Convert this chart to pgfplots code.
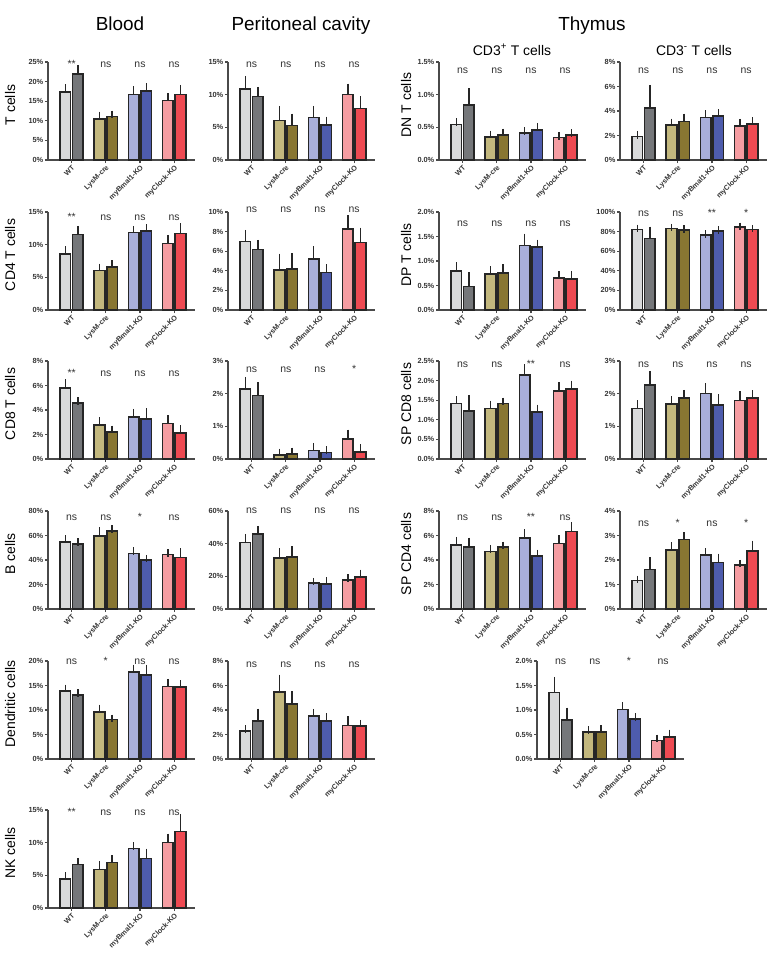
\documentclass[border=0pt]{standalone}
\usepackage{pgfplots}
\pgfplotsset{compat=1.18}
\usepackage{fontspec}
\setmainfont{Liberation Sans}
\definecolor{wtl}{HTML}{D9DADB}
\definecolor{wtd}{HTML}{75777A}
\definecolor{lyl}{HTML}{C3B87E}
\definecolor{lyd}{HTML}{887632}
\definecolor{bml}{HTML}{A9AFDA}
\definecolor{bmd}{HTML}{4E5CAD}
\definecolor{ckl}{HTML}{F59DA2}
\definecolor{ckd}{HTML}{EE4A52}
\definecolor{linec}{HTML}{262626}
\definecolor{axisc}{HTML}{4A4A4A}
\definecolor{txtc}{HTML}{333333}
\pgfplotsset{
  mybar/.style={ybar, bar width=10.5bp, bar shift=0pt, draw=linec, line width=1.6bp},
  panel/.style={scale only axis, width=147bp, height=98bp, anchor=south west,
    xmin=-0.69, xmax=3.61, ymin=0, clip=false,
    axis x line*=bottom, axis y line*=left,
    axis line style={line width=1.3bp, draw=axisc},
    tick style={line width=1.1bp, draw=axisc},
    major tick length=3bp, tick align=outside,
    xtick={0,1,2,3}, xticklabels={WT,LysM-cre,myBmal1-KO,myClock-KO},
    xticklabel style={rotate=45, anchor=north east, font=\fontsize{7.2}{8}\selectfont\bfseries, text=txtc, inner sep=1bp},
    yticklabel style={font=\fontsize{7.4}{8}\selectfont\bfseries, text=txtc, inner sep=1.5bp},
    yticklabel={\pgfmathprintnumber{\tick}\%},
    /pgf/number format/assume math mode=true},
  zf/.style={/pgf/number format/fixed, /pgf/number format/fixed zerofill, /pgf/number format/precision=1}
}
% #1 light colour, #2 dark colour, #3 x light, #4 y light, #5 err light, #6 x dark, #7 y dark, #8 err dark
\newcommand{\G}[8]{%
\addplot[mybar, fill=#1, error bars/.cd, y dir=plus, y explicit, error bar style={line width=1.5bp, draw=linec}, error mark options={line width=1.5bp, draw=linec, mark size=3.8bp}] coordinates {(#3,#4) +- (0,#5)};
\addplot[mybar, fill=#2, error bars/.cd, y dir=plus, y explicit, error bar style={line width=1.5bp, draw=linec}, error mark options={line width=1.5bp, draw=linec, mark size=3.8bp}] coordinates {(#6,#7) +- (0,#8)};}
\newcommand{\sigs}[5]{%
\node[anchor=base, font=\fontsize{10.5}{12}\selectfont, text=txtc] at ({axis cs:0,0}|-{rel axis cs:0,#5}) {#1};
\node[anchor=base, font=\fontsize{10.5}{12}\selectfont, text=txtc] at ({axis cs:1,0}|-{rel axis cs:0,#5}) {#2};
\node[anchor=base, font=\fontsize{10.5}{12}\selectfont, text=txtc] at ({axis cs:2,0}|-{rel axis cs:0,#5}) {#3};
\node[anchor=base, font=\fontsize{10.5}{12}\selectfont, text=txtc] at ({axis cs:3,0}|-{rel axis cs:0,#5}) {#4};}
\begin{document}
\begin{tikzpicture}
\useasboundingbox (0,0) rectangle (772bp,-965bp);
% titles
\node[anchor=base, font=\fontsize{19}{22}\selectfont] at (120bp,-30bp) {Blood};
\node[anchor=base, font=\fontsize{19}{22}\selectfont] at (301bp,-30bp) {Peritoneal cavity};
\node[anchor=base, font=\fontsize{19}{22}\selectfont] at (592bp,-30bp) {Thymus};
\node[anchor=base, font=\fontsize{14}{16}\selectfont] at (512bp,-55bp) {CD3\textsuperscript{+} T cells};
\node[anchor=base, font=\fontsize{14}{16}\selectfont] at (694bp,-55bp) {CD3\textsuperscript{-} T cells};
% y labels
\foreach \t/\y in {T cells/105, CD4 T cells/255, CD8 T cells/404, B cells/554, Dendritic cells/704, NK cells/853}
  \node[anchor=base, rotate=90, font=\fontsize{14}{16}\selectfont] at (15bp,-\y bp) {\t};
\foreach \t/\y in {DN T cells/105, DP T cells/255, SP CD8 cells/404, SP CD4 cells/554}
  \node[anchor=base, rotate=90, font=\fontsize{14}{16}\selectfont] at (411bp,-\y bp) {\t};

% ---------- Row 1 ----------
\begin{axis}[panel, at={(48bp,-160bp)}, ymax=25, ytick={0,5,...,25}]
\G{wtl}{wtd}{-0.185}{17.4}{1.0}{0.185}{22.0}{1.3}
\G{lyl}{lyd}{0.815}{10.4}{1.0}{1.185}{11.1}{0.5}
\G{bml}{bmd}{1.815}{16.7}{1.1}{2.185}{17.6}{1.0}
\G{ckl}{ckd}{2.815}{15.2}{0.9}{3.185}{16.7}{1.5}
\sigs{**}{ns}{ns}{ns}{0.94}
\end{axis}
\begin{axis}[panel, at={(228bp,-160bp)}, ymax=15, ytick={0,5,10,15}]
\G{wtl}{wtd}{-0.185}{10.9}{1.4}{0.185}{9.7}{0.9}
\G{lyl}{lyd}{0.815}{6.05}{1.65}{1.185}{5.3}{1.2}
\G{bml}{bmd}{1.815}{6.5}{1.2}{2.185}{5.4}{0.65}
\G{ckl}{ckd}{2.815}{10.0}{1.1}{3.185}{7.9}{1.25}
\sigs{ns}{ns}{ns}{ns}{0.94}
\end{axis}
\begin{axis}[panel, at={(439bp,-160bp)}, ymax=1.5, ytick={0,0.5,1.0,1.5}, zf]
\G{wtl}{wtd}{-0.185}{0.544}{0.04}{0.185}{0.84}{0.2}
\G{lyl}{lyd}{0.815}{0.356}{0.035}{1.185}{0.386}{0.035}
\G{bml}{bmd}{1.815}{0.417}{0.025}{2.185}{0.46}{0.05}
\G{ckl}{ckd}{2.815}{0.346}{0.025}{3.185}{0.38}{0.03}
\sigs{ns}{ns}{ns}{ns}{0.88}
\end{axis}
\begin{axis}[panel, at={(620bp,-160bp)}, ymax=8, ytick={0,2,...,8}]
\G{wtl}{wtd}{-0.185}{1.92}{0.14}{0.185}{4.25}{1.58}
\G{lyl}{lyd}{0.815}{2.87}{0.19}{1.185}{3.14}{0.33}
\G{bml}{bmd}{1.815}{3.47}{0.3}{2.185}{3.6}{0.25}
\G{ckl}{ckd}{2.815}{2.79}{0.25}{3.185}{2.93}{0.27}
\sigs{ns}{ns}{ns}{ns}{0.88}
\end{axis}
% ---------- Row 2 ----------
\begin{axis}[panel, at={(48bp,-310bp)}, ymax=15, ytick={0,5,10,15}]
\G{wtl}{wtd}{-0.185}{8.54}{0.6}{0.185}{11.54}{0.76}
\G{lyl}{lyd}{0.815}{6.05}{0.45}{1.185}{6.6}{0.4}
\G{bml}{bmd}{1.815}{11.85}{0.45}{2.185}{12.1}{0.45}
\G{ckl}{ckd}{2.815}{10.2}{0.7}{3.185}{11.74}{0.96}
\sigs{**}{ns}{ns}{ns}{0.91}
\end{axis}
\begin{axis}[panel, at={(228bp,-310bp)}, ymax=10, ytick={0,2,...,10}]
\G{wtl}{wtd}{-0.185}{6.98}{0.82}{0.185}{6.17}{0.61}
\G{lyl}{lyd}{0.815}{4.07}{1.29}{1.185}{4.17}{1.25}
\G{bml}{bmd}{1.815}{5.19}{0.91}{2.185}{3.83}{0.47}
\G{ckl}{ckd}{2.815}{8.27}{1.02}{3.185}{6.88}{1.15}
\sigs{ns}{ns}{ns}{ns}{0.99}
\end{axis}
\begin{axis}[panel, at={(439bp,-310bp)}, ymax=2, ytick={0,0.5,1.0,1.5,2.0}, zf]
\G{wtl}{wtd}{-0.185}{0.80}{0.10}{0.185}{0.48}{0.21}
\G{lyl}{lyd}{0.815}{0.74}{0.08}{1.185}{0.75}{0.11}
\G{bml}{bmd}{1.815}{1.32}{0.16}{2.185}{1.29}{0.07}
\G{ckl}{ckd}{2.815}{0.65}{0.06}{3.185}{0.63}{0.09}
\sigs{ns}{ns}{ns}{ns}{0.85}
\end{axis}
\begin{axis}[panel, at={(620bp,-310bp)}, ymax=100, ytick={0,20,...,100}]
\G{wtl}{wtd}{-0.185}{82}{1.3}{0.185}{73}{8.3}
\G{lyl}{lyd}{0.815}{83}{1.0}{1.185}{81.6}{1.0}
\G{bml}{bmd}{1.815}{76.5}{1.0}{2.185}{80.6}{1.0}
\G{ckl}{ckd}{2.815}{84.4}{1.0}{3.185}{82}{1.0}
\sigs{ns}{ns}{**}{*}{0.95}
\end{axis}
% ---------- Row 3 ----------
\begin{axis}[panel, at={(48bp,-459bp)}, ymax=8, ytick={0,2,...,8}]
\G{wtl}{wtd}{-0.185}{5.81}{0.38}{0.185}{4.57}{0.16}
\G{lyl}{lyd}{0.815}{2.76}{0.32}{1.185}{2.22}{0.19}
\G{bml}{bmd}{1.815}{3.41}{0.37}{2.185}{3.27}{0.57}
\G{ckl}{ckd}{2.815}{2.89}{0.38}{3.185}{2.11}{0.32}
\sigs{**}{ns}{ns}{ns}{0.84}
\end{axis}
\begin{axis}[panel, at={(228bp,-459bp)}, ymax=3, ytick={0,1,2,3}]
\G{wtl}{wtd}{-0.185}{2.15}{0.25}{0.185}{1.94}{0.3}
\G{lyl}{lyd}{0.815}{0.13}{0.07}{1.185}{0.15}{0.08}
\G{bml}{bmd}{1.815}{0.26}{0.12}{2.185}{0.2}{0.08}
\G{ckl}{ckd}{2.815}{0.62}{0.16}{3.185}{0.21}{0.13}
\sigs{ns}{ns}{ns}{*}{0.88}
\end{axis}
\begin{axis}[panel, at={(439bp,-459bp)}, ymax=2.5, ytick={0,0.5,1.0,1.5,2.0,2.5}, zf]
\G{wtl}{wtd}{-0.185}{1.42}{0.09}{0.185}{1.23}{0.31}
\G{lyl}{lyd}{0.815}{1.29}{0.10}{1.185}{1.42}{0.05}
\G{bml}{bmd}{1.815}{2.14}{0.18}{2.185}{1.2}{0.09}
\G{ckl}{ckd}{2.815}{1.73}{0.13}{3.185}{1.78}{0.12}
\sigs{ns}{ns}{**}{ns}{0.93}
\end{axis}
\begin{axis}[panel, at={(620bp,-459bp)}, ymax=3, ytick={0,1,2,3}]
\G{wtl}{wtd}{-0.185}{1.55}{0.13}{0.185}{2.27}{0.31}
\G{lyl}{lyd}{0.815}{1.69}{0.11}{1.185}{1.87}{0.13}
\G{bml}{bmd}{1.815}{2.01}{0.19}{2.185}{1.66}{0.21}
\G{ckl}{ckd}{2.815}{1.79}{0.17}{3.185}{1.86}{0.13}
\sigs{ns}{ns}{ns}{ns}{0.93}
\end{axis}
% ---------- Row 4 ----------
\begin{axis}[panel, at={(48bp,-609bp)}, ymax=80, ytick={0,20,...,80}]
\G{wtl}{wtd}{-0.185}{54.5}{2.7}{0.185}{53.1}{1.4}
\G{lyl}{lyd}{0.815}{59.7}{4.1}{1.185}{63.8}{1.3}
\G{bml}{bmd}{1.815}{45.2}{2.2}{2.185}{39.8}{1.3}
\G{ckl}{ckd}{2.815}{44.4}{1.4}{3.185}{42.2}{4.1}
\sigs{ns}{ns}{*}{ns}{0.90}
\end{axis}
\begin{axis}[panel, at={(228bp,-609bp)}, ymax=60, ytick={0,20,40,60}]
\G{wtl}{wtd}{-0.185}{40.6}{3.1}{0.185}{45.8}{2.8}
\G{lyl}{lyd}{0.815}{31.2}{3.7}{1.185}{31.8}{4.3}
\G{bml}{bmd}{1.815}{15.8}{1.0}{2.185}{15.4}{1.8}
\G{ckl}{ckd}{2.815}{17.9}{1.0}{3.185}{19.5}{2.3}
\sigs{ns}{ns}{ns}{ns}{0.97}
\end{axis}
\begin{axis}[panel, at={(439bp,-609bp)}, ymax=8, ytick={0,2,...,8}]
\G{wtl}{wtd}{-0.185}{5.22}{0.35}{0.185}{5.05}{0.47}
\G{lyl}{lyd}{0.815}{4.7}{0.22}{1.185}{5.05}{0.14}
\G{bml}{bmd}{1.815}{5.82}{0.4}{2.185}{4.35}{0.19}
\G{ckl}{ckd}{2.815}{5.35}{0.36}{3.185}{6.33}{0.44}
\sigs{ns}{ns}{**}{ns}{0.90}
\end{axis}
\begin{axis}[panel, at={(620bp,-609bp)}, ymax=4, ytick={0,1,2,3,4}]
\G{wtl}{wtd}{-0.185}{1.16}{0.05}{0.185}{1.61}{0.34}
\G{lyl}{lyd}{0.815}{2.41}{0.16}{1.185}{2.84}{0.14}
\G{bml}{bmd}{1.815}{2.2}{0.13}{2.185}{1.9}{0.21}
\G{ckl}{ckd}{2.815}{1.8}{0.05}{3.185}{2.37}{0.27}
\sigs{ns}{*}{ns}{*}{0.84}
\end{axis}
% ---------- Row 5 ----------
\begin{axis}[panel, at={(48bp,-759bp)}, ymax=20, ytick={0,5,...,20}]
\G{wtl}{wtd}{-0.185}{13.9}{0.5}{0.185}{13.1}{0.4}
\G{lyl}{lyd}{0.815}{9.6}{0.7}{1.185}{8.05}{0.25}
\G{bml}{bmd}{1.815}{17.8}{0.7}{2.185}{17.1}{1.4}
\G{ckl}{ckd}{2.815}{14.8}{0.8}{3.185}{14.7}{0.6}
\sigs{ns}{*}{ns}{ns}{0.96}
\end{axis}
\begin{axis}[panel, at={(228bp,-759bp)}, ymax=8, ytick={0,2,...,8}]
\G{wtl}{wtd}{-0.185}{2.27}{0.19}{0.185}{3.08}{0.73}
\G{lyl}{lyd}{0.815}{5.49}{1.08}{1.185}{4.51}{0.71}
\G{bml}{bmd}{1.815}{3.49}{0.29}{2.185}{3.11}{0.32}
\G{ckl}{ckd}{2.815}{2.73}{0.46}{3.185}{2.68}{0.21}
\sigs{ns}{ns}{ns}{ns}{0.93}
\end{axis}
\begin{axis}[panel, at={(537bp,-759bp)}, ymax=2, ytick={0,0.5,1.0,1.5,2.0}, zf]
\G{wtl}{wtd}{-0.185}{1.36}{0.24}{0.185}{0.80}{0.17}
\G{lyl}{lyd}{0.815}{0.55}{0.04}{1.185}{0.55}{0.06}
\G{bml}{bmd}{1.815}{1.01}{0.07}{2.185}{0.82}{0.04}
\G{ckl}{ckd}{2.815}{0.38}{0.04}{3.185}{0.45}{0.07}
\sigs{ns}{ns}{*}{ns}{0.96}
\end{axis}
% ---------- Row 6 ----------
\begin{axis}[panel, at={(48bp,-908bp)}, ymax=15, ytick={0,5,10,15}]
\G{wtl}{wtd}{-0.185}{4.46}{0.45}{0.185}{6.68}{0.41}
\G{lyl}{lyd}{0.815}{5.92}{0.71}{1.185}{6.94}{0.55}
\G{bml}{bmd}{1.815}{9.11}{0.41}{2.185}{7.59}{0.91}
\G{ckl}{ckd}{2.815}{10.0}{0.8}{3.185}{11.7}{2.1}
\sigs{**}{ns}{ns}{ns}{0.94}
\end{axis}
\end{tikzpicture}
\end{document}
